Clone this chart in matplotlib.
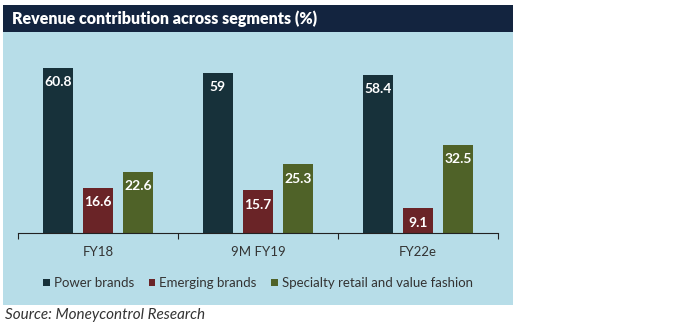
import numpy as np
import matplotlib
matplotlib.use("Agg")
from matplotlib import pyplot as plt
from matplotlib.patches import Rectangle

# data
categories = ["FY18", "9M FY19", "FY22e"]
power_brands = [60.8, 59, 58.4]
emerging_brands = [16.6, 15.7, 9.1]
specialty_retail = [22.6, 25.3, 32.5]
series_names = ["Power brands", "Emerging brands", "Specialty retail and value fashion"]
colors = ["#17313a", "#6a2427", "#4f6228"]

plt.rcParams['font.family'] = ['Lato', 'DejaVu Sans']

W, H = 699, 327
fig = plt.figure(figsize=(W / 100, H / 100), dpi=100)
fig.patch.set_facecolor("white")

def fx(px):
    return px / W

def fy(py):
    return 1 - py / H

# light blue panel and navy title bar (behind the axes)
fig.patches.append(Rectangle((fx(3), fy(305)), fx(510), (305 - 5) / H,
                             transform=fig.transFigure, facecolor="#b7dde8", edgecolor="none", zorder=-3))
fig.patches.append(Rectangle((fx(3), fy(32)), fx(510), (32 - 5) / H,
                             transform=fig.transFigure, facecolor="#13243f", edgecolor="none", zorder=-2))
fig.text(fx(12), fy(19), "Revenue contribution across segments (%)", color="white",
         fontsize=11.5, fontweight="heavy", va="center", ha="left")

# axes: baseline at y=233, x from 18 to 498
ymax = 70
top_px = 233 - ymax * (165 / 60.8)
ax = fig.add_axes([fx(18), fy(233), fx(498 - 18), (233 - top_px) / H])
ax.set_facecolor("none")
ax.set_xlim(0, 3)
ax.set_ylim(0, ymax)

x = np.arange(len(categories)) + 0.5
bw = 30 / 160
step = 40 / 160
all_series = [power_brands, emerging_brands, specialty_retail]
for i, (vals, name, c) in enumerate(zip(all_series, series_names, colors)):
    xs = x + (i - 1) * step
    ax.bar(xs, vals, width=bw, color=c, label=name, zorder=2)
    for xx, v in zip(xs, vals):
        lbl = f"{v:g}"
        ax.annotate(lbl, (xx, v), xytext=(0, -6), textcoords="offset points",
                    ha="center", va="top", color="white", fontsize=10, fontweight="bold", zorder=3)

for s in ["top", "right", "left"]:
    ax.spines[s].set_visible(False)
ax.spines["bottom"].set_color("#222222")
ax.set_yticks([])
ax.set_xticks([0, 1, 2, 3])
ax.set_xticklabels([])
ax.set_xticks(x, minor=True)
ax.set_xticklabels(categories, minor=True)
ax.tick_params(axis="x", which="major", length=4, direction="out", color="#222222")
ax.tick_params(axis="x", which="minor", length=0, pad=9, labelsize=9.5, labelcolor="#333333")

leg = ax.legend(loc="center", bbox_to_anchor=(0.5, (233 - 283) / (233 - top_px)),
                ncol=3, frameon=False, fontsize=9.5, handlelength=0.5, handleheight=0.5,
                handletextpad=0.3, columnspacing=1.1)
for t in leg.get_texts():
    t.set_color("#333333")

fig.text(fx(5), fy(315), "Source: Moneycontrol Research", fontsize=11, style="italic",
         color="#333333", va="center", ha="left")

fig.savefig("out.png", dpi=100)
